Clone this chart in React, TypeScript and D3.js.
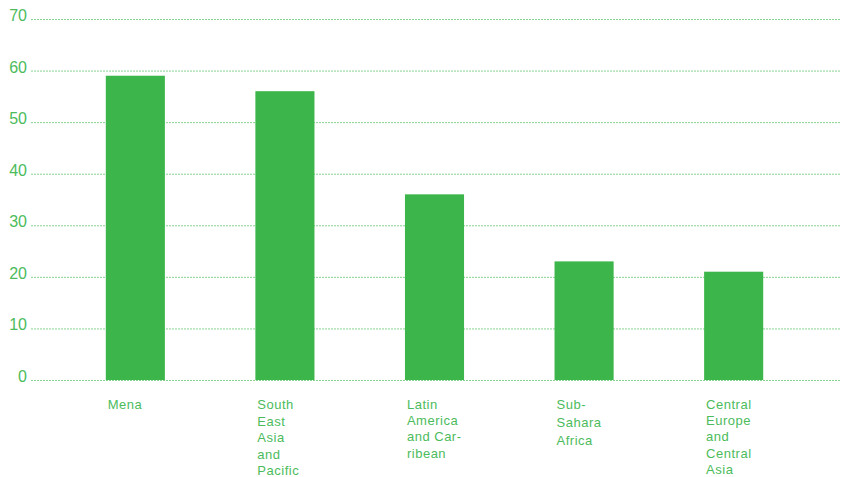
import React from "react";
import * as d3 from "d3";

const categories = ["Mena", "South East Asia and Pacific", "Latin America and Caribbean", "Sub-Sahara Africa", "Central Europe and Central Asia"];
const categoryLines = [
  ["Mena"],
  ["South", "East", "Asia", "and", "Pacific"],
  ["Latin", "America", "and Car-", "ribean"],
  ["Sub-", "Sahara", "Africa"],
  ["Central", "Europe", "and", "Central", "Asia"],
];
const values = [59, 56, 36, 23, 21];
const yTicks = [0, 10, 20, 30, 40, 50, 60, 70];

const W = 841;
const H = 477;
const BAR = "#3cb54a";
const TEXT = "#4cbb5c";
const GRID = "#86d290";
const lineGap = [16.6, 16.6, 16.2, 18.2, 16.2];

export default function App() {
  const x = d3.scaleBand<string>().domain(categories).range([31, 838]).paddingInner(0.605).paddingOuter(0.5);
  const y = d3.scaleLinear().domain([0, 70]).range([380, 19]);
  return (
    <svg width={W} height={H} style={{ position: "absolute", left: 0, top: 0 }} fontFamily="Liberation Sans, Arial, sans-serif">
      {yTicks.map((t) => (
        <g key={t}>
          <line x1={31} x2={840} y1={y(t) + 0.5} y2={y(t) + 0.5} stroke={GRID} strokeWidth={1} strokeDasharray="2,1" />
          <text x={27} y={y(t) + 2} textAnchor="end" fontSize={16} fill={TEXT}>{t}</text>
        </g>
      ))}
      {categories.map((c, i) => (
        <rect key={c} x={x(c)} y={y(values[i])} width={x.bandwidth()} height={y(0) - y(values[i])} fill={BAR} />
      ))}
      {categories.map((c, i) => (
        <text key={c} x={(x(c) as number) + 2} y={409} fontSize={13} fill={TEXT} letterSpacing={0.5}>
          {categoryLines[i].map((l, j) => (
            <tspan key={j} x={(x(c) as number) + 2} y={409 + j * lineGap[i]}>{l}</tspan>
          ))}
        </text>
      ))}
    </svg>
  );
}
